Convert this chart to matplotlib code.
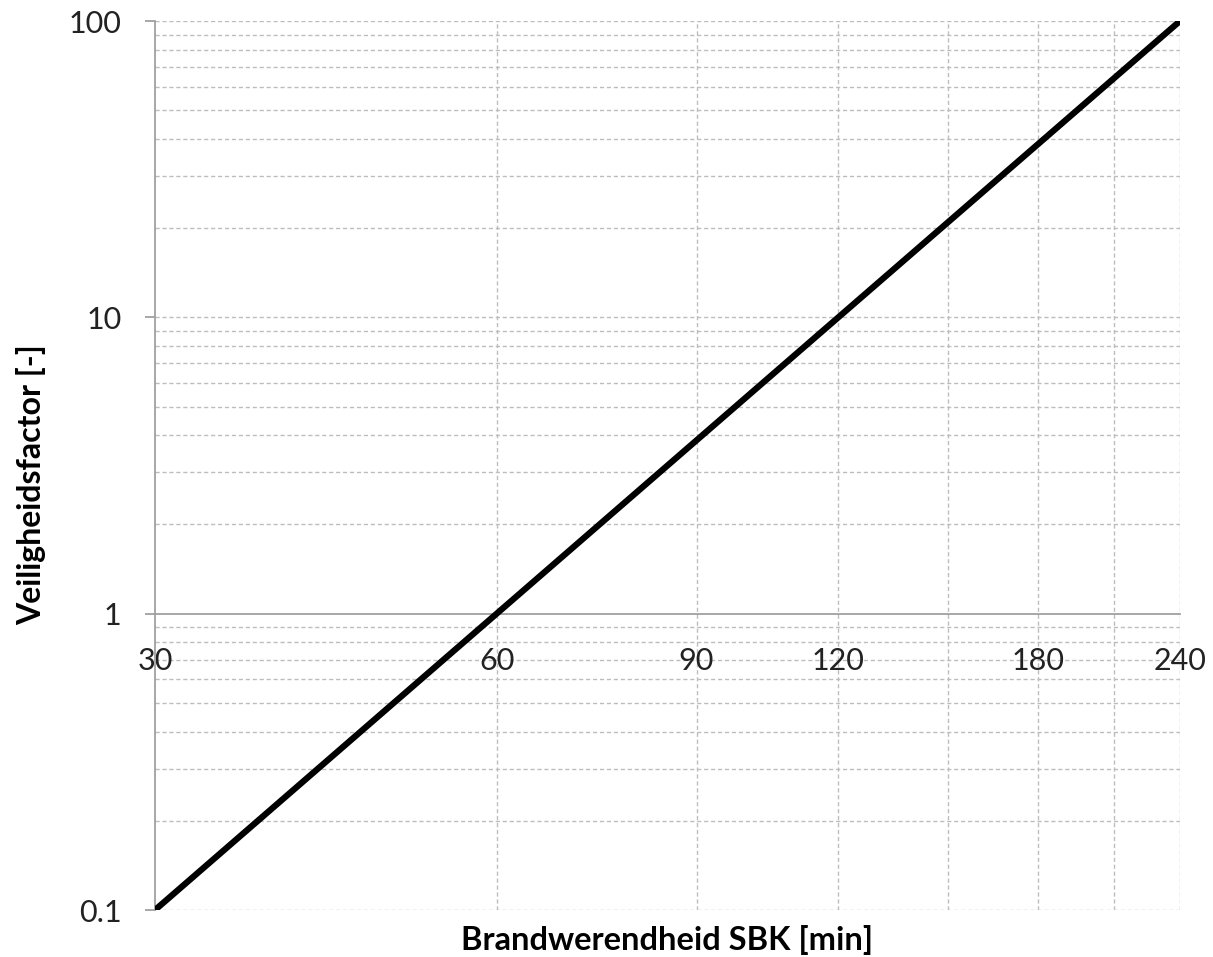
import matplotlib
matplotlib.use("Agg")
import matplotlib.pyplot as plt
from matplotlib.ticker import FixedLocator, NullFormatter, NullLocator

# Data
x_values = [30, 240]
y_values = [0.1, 100]
x_ticks = [30, 60, 90, 120, 180, 240]
x_tick_labels = ["30", "60", "90", "120", "180", "240"]
x_grid = [60, 90, 120, 150, 180, 210, 240]
y_ticks = [0.1, 1, 10, 100]
y_tick_labels = ["0.1", "1", "10", "100"]
y_minor_mult = [1, 2, 3, 4, 5, 6, 7, 8, 9]
x_label = "Brandwerendheid SBK [min]"
y_label = "Veiligheidsfactor [-]"

plt.rcParams['font.family'] = ['Lato', 'DejaVu Sans']

W, H = 1213, 957
fig = plt.figure(figsize=(W / 100, H / 100), dpi=100)
ax = fig.add_axes([155 / W, 1 - 910 / H, (1180 - 155) / W, (910 - 21) / H])

ax.set_xscale('log')
ax.set_yscale('log')
ax.set_xlim(30, 240)
ax.set_ylim(0.1, 100)

gridc = '#bdbdbd'
for xg in x_grid:
    ax.axvline(xg, color=gridc, lw=1.0, ls=(0, (3, 2)), zorder=1)
ygr = [dec * m for dec in y_ticks[:-1] for m in y_minor_mult] + [y_ticks[-1]]
for yg in ygr:
    if yg == 1:
        continue
    ax.axhline(yg, color=gridc, lw=1.0, ls=(0, (3, 2)), zorder=1)

ax.plot(x_values, y_values, color='black', lw=4.5, solid_capstyle='butt', zorder=5)

for s in ['top', 'right']:
    ax.spines[s].set_visible(False)
ax.spines['bottom'].set_position(('data', 1))
ax.spines['bottom'].set_color('#a0a0a0')
ax.spines['bottom'].set_linewidth(1.3)
ax.spines['left'].set_color('#a0a0a0')
ax.spines['left'].set_linewidth(1.3)

ax.xaxis.set_major_locator(FixedLocator(x_ticks))
ax.xaxis.set_minor_locator(NullLocator())
ax.set_xticklabels(x_tick_labels)
ax.xaxis.set_minor_formatter(NullFormatter())
ax.yaxis.set_major_locator(FixedLocator(y_ticks))
ax.yaxis.set_minor_locator(NullLocator())
ax.set_yticklabels(y_tick_labels)
ax.yaxis.set_minor_formatter(NullFormatter())

ax.tick_params(axis='x', length=0, pad=24, labelsize=22, colors='#222222')
ax.tick_params(axis='y', length=7, width=1.3, color='#a0a0a0', pad=17, labelsize=22, labelcolor='#222222')

fig.text(667 / W, 1 - 940 / H, x_label, ha='center', va='center', fontsize=23.5, fontweight='bold')
fig.text(31 / W, 1 - 485 / H, y_label, ha='center', va='center', fontsize=23, fontweight='bold', rotation=90)

fig.savefig('out.png', dpi=100)
